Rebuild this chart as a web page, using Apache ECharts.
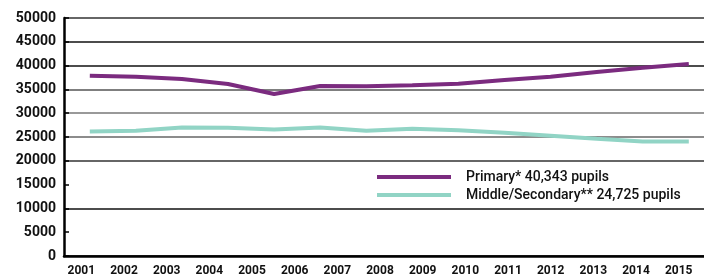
<!DOCTYPE html>
<html>
<head>
<meta charset="utf-8">
<script src="https://cdn.jsdelivr.net/npm/echarts@6/dist/echarts.min.js"></script>
<style>
html,body{margin:0;padding:0;background:#fff;}
#chart{width:704px;height:279px;}
</style>
</head>
<body>
<div id="chart"></div>
<script>
// pupils per year
var years = ['2001','2002','2003','2004','2005','2006','2007','2008','2009','2010','2011','2012','2013','2014','2015'];
var primary = [37880, 37670, 37190, 36140, 34050, 35720, 35680, 35870, 36210, 36980, 37670, 38660, 39560, 40343];
var secondary = [26140, 26290, 26980, 26920, 26560, 26980, 26290, 26710, 26440, 25870, 25240, 24610, 24050, 24050];
var names = ['Primary* 40,343 pupils', 'Middle/Secondary** 24,725 pupils'];
var colors = ['#7b2b7f', '#91d4c5'];
var tickBands = ['','','','','','','','','','','','','',''];

var chart = echarts.init(document.getElementById('chart'));

function pts(arr){
	var out = [];
	for (var i = 0; i < arr.length; i++) out.push([i, arr[i]]);
	return out;
}

var labelFont = {fontFamily: 'Roboto', fontWeight: 'bold', color: '#111'};

chart.setOption({
	animation: false,
	grid: {left: 64, right: -3, top: 18, bottom: 23},
	legend: {
		orient: 'vertical',
		left: 377,
		top: 170,
		padding: 0,
		itemGap: 4,
		itemWidth: 74,
		itemHeight: 4,
		icon: 'rect',
		data: names,
		textStyle: {fontFamily: 'Roboto', fontWeight: 500, fontSize: 14, lineHeight: 14, color: '#111', padding: [0,0,0,10]}
	},
	xAxis: [{
		// hidden scale for the lines
		type: 'value',
		min: -0.56,
		max: 13.33,
		show: false
	}, {
		// year labels
		type: 'category',
		data: years,
		boundaryGap: true,
		position: 'bottom',
		axisLine: {lineStyle: {color: '#000', width: 2.5}},
		axisTick: {show: false},
		axisLabel: Object.assign({fontSize: 12, margin: 9, interval: 0, padding: [0,8,0,0]}, labelFont)
	}, {
		// tick marks
		type: 'category',
		data: tickBands,
		boundaryGap: true,
		position: 'bottom',
		axisLine: {show: false},
		axisTick: {inside: true, length: 6, lineStyle: {color: '#000', width: 2}},
		axisLabel: {show: false}
	}],
	yAxis: {
		type: 'value',
		min: 0,
		max: 50000,
		interval: 5000,
		axisLine: {show: true, onZero: false, lineStyle: {color: '#000', width: 2.5}},
		axisTick: {show: true, inside: true, length: 5, lineStyle: {color: '#000', width: 1.5}},
		axisLabel: Object.assign({fontSize: 14, margin: 8, formatter: function(v){ return String(v); }}, labelFont),
		splitLine: {
			show: true,
			lineStyle: {
				width: 1.5,
				color: ['#000', 'rgba(0,0,0,0)', '#111', 'rgba(0,0,0,0)', '#333', '#666', '#777', '#555', '#111', '#111', '#333']
			}
		}
	},
	series: [{
		name: names[0],
		type: 'line',
		xAxisIndex: 0,
		data: pts(primary),
		showSymbol: false,
		color: colors[0],
		lineStyle: {width: 4, color: colors[0]}
	}, {
		name: names[1],
		type: 'line',
		xAxisIndex: 0,
		data: pts(secondary),
		showSymbol: false,
		color: colors[1],
		lineStyle: {width: 4, color: colors[1]}
	}]
});
</script>
</body>
</html>
